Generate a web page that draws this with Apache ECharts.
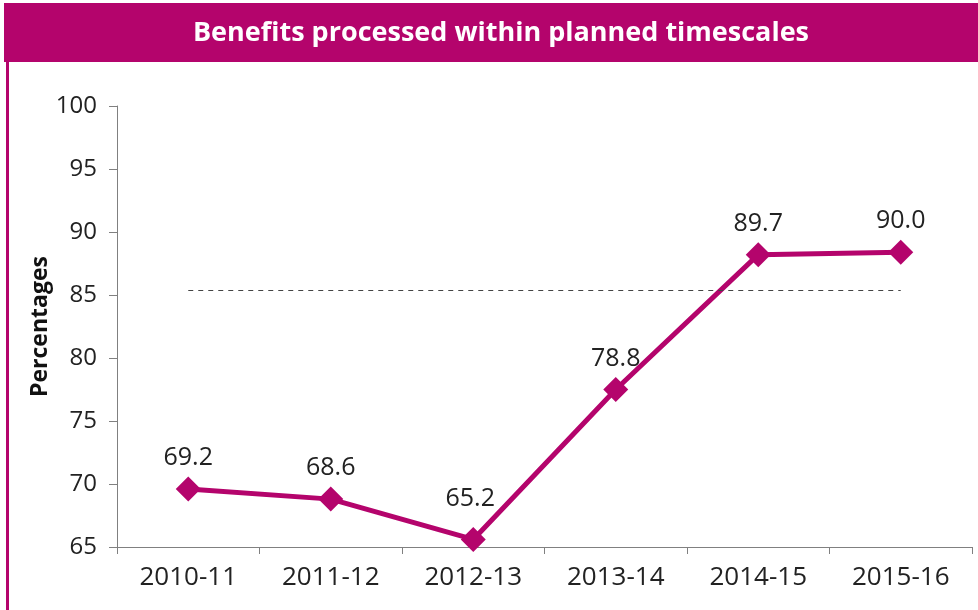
<!DOCTYPE html>
<html>
<head>
<meta charset="utf-8">
<script src="https://cdn.jsdelivr.net/npm/echarts@6/dist/echarts.min.js"></script>
<style>
  html, body { margin: 0; padding: 0; background: #fff; }
  #chart { width: 978px; height: 610px; }
</style>
</head>
<body>
<div id="chart"></div>
<script>
// data
const categories = ['2010-11', '2011-12', '2012-13', '2013-14', '2014-15', '2015-16'];
// where the markers sit on the y scale
const pointValues = [69.6, 68.8, 65.6, 77.5, 88.2, 88.4];
// the numbers printed above the markers
const labelTexts = ['69.2', '68.6', '65.2', '78.8', '89.7', '90.0'];
const yTicks = [65, 70, 75, 80, 85, 90, 95, 100];
const targetLine = 85.4;

const magenta = '#b4046c';

const chart = echarts.init(document.getElementById('chart'));

const option = {
    animation: false,
    backgroundColor: '#fff',
    graphic: [
        {
            type: 'rect',
            shape: { x: 4, y: 3, width: 974, height: 59 },
            style: { fill: magenta }
        },
        {
            type: 'rect',
            shape: { x: 6, y: 60, width: 3, height: 560 },
            style: { fill: magenta }
        },
        {
            type: 'text',
            x: 501,
            y: 33,
            style: {
                text: 'Benefits processed within planned timescales',
                fill: '#fff',
                font: 'bold 27px "Open Sans"',
                align: 'center',
                verticalAlign: 'middle'
            }
        }
    ],
    grid: {
        left: 117,
        right: 6,
        top: 106,
        bottom: 63
    },
    xAxis: {
        type: 'category',
        data: categories,
        boundaryGap: true,
        axisLine: { lineStyle: { color: '#808080', width: 1 } },
        axisTick: { show: true, length: 7, lineStyle: { color: '#808080' } },
        axisLabel: {
            color: '#222',
            fontFamily: 'Open Sans',
            fontSize: 26,
            margin: 18
        }
    },
    yAxis: {
        type: 'value',
        min: yTicks[0],
        max: yTicks[yTicks.length - 1],
        interval: 5,
        name: 'Percentages',
        nameLocation: 'middle',
        nameGap: 65,
        nameMoveOverlap: false,
        nameRotate: 90,
        nameTextStyle: {
            color: '#111',
            fontFamily: 'Open Sans',
            fontWeight: 'bold',
            fontSize: 23
        },
        axisLine: { show: true, lineStyle: { color: '#808080', width: 1 } },
        axisTick: { show: true, length: 8, lineStyle: { color: '#808080' } },
        splitLine: { show: false },
        axisLabel: {
            color: '#222',
            fontFamily: 'Open Sans',
            fontSize: 24,
            margin: 20
        }
    },
    series: [
        {
            type: 'line',
            data: pointValues.map((v, i) => ({
                value: v,
                label: i === 2 ? { offset: [-3, -10] } : undefined
            })),
            symbol: 'diamond',
            symbolSize: 25,
            lineStyle: { color: magenta, width: 5 },
            itemStyle: { color: magenta },
            label: {
                show: true,
                position: 'top',
                distance: 6,
                color: '#222',
                fontFamily: 'Open Sans',
                fontSize: 25,
                formatter: p => labelTexts[p.dataIndex]
            },
            markLine: {
                silent: true,
                symbol: 'none',
                label: { show: false },
                lineStyle: { color: '#444', width: 1, type: [5, 5] },
                data: [
                    [
                        { xAxis: 0, yAxis: targetLine },
                        { xAxis: categories.length - 1, yAxis: targetLine }
                    ]
                ]
            },
            z: 3
        }
    ]
};

chart.setOption(option);
</script>
</body>
</html>
